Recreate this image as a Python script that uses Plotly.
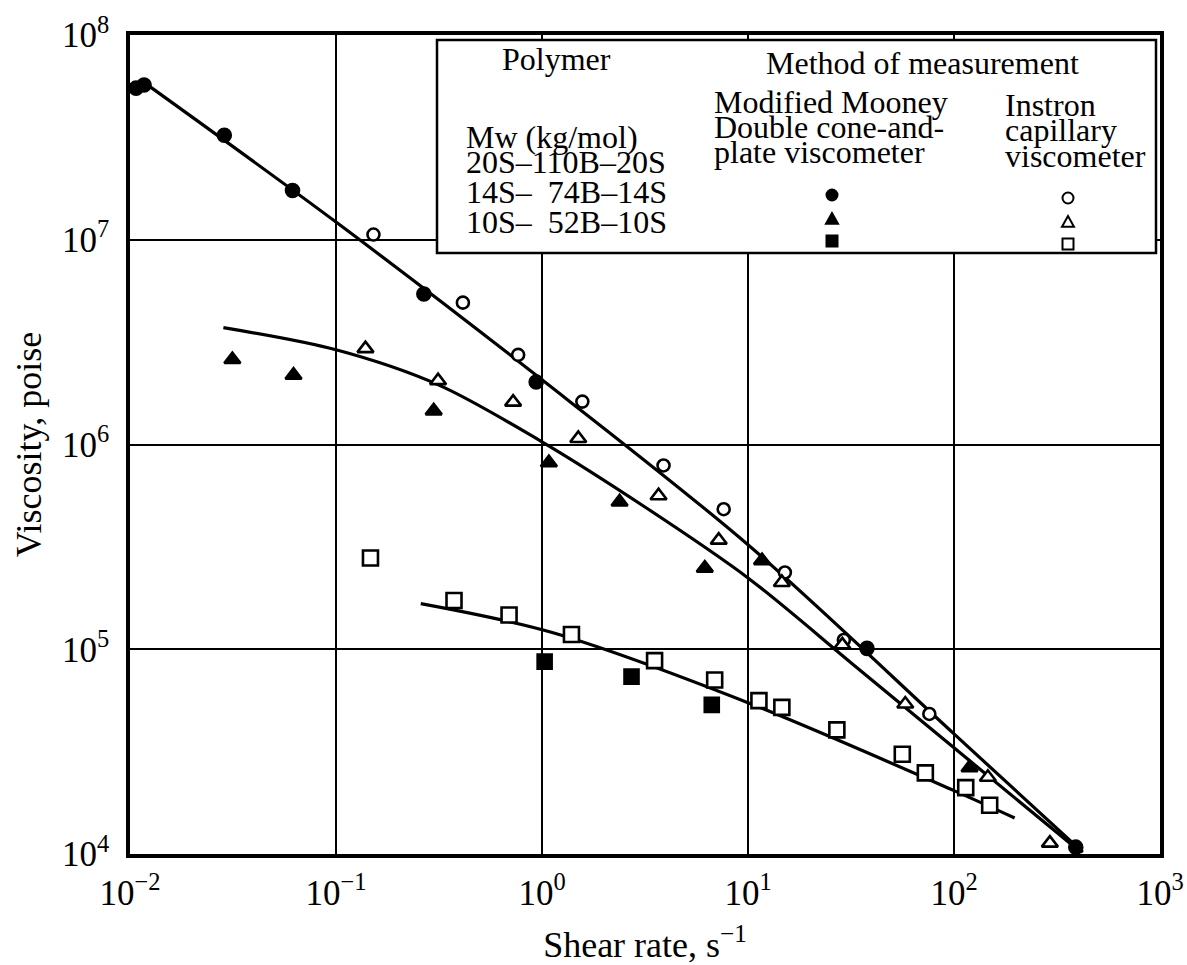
import plotly.graph_objects as go

# ---- measured viscosity data (shear rate in s^-1, viscosity in poise) ----
# 20S-110B-20S
mooney_20_rate = [0.0107, 0.0117, 0.0287, 0.0615, 0.267, 0.937, 37.8, 390]
mooney_20_visc = [5.5e7, 5.7e7, 3.24e7, 1.74e7, 5.43e6, 2.02e6, 1.01e5, 1.08e4]
instron_20_rate = [0.152, 0.413, 0.766, 1.57, 3.89, 7.62, 15.1, 29.2, 75.9]
instron_20_visc = [1.06e7, 4.93e6, 2.74e6, 1.62e6, 7.9e5, 4.83e5, 2.37e5, 1.11e5, 4.83e4]

# 14S-74B-14S
mooney_14_rate = [0.0314, 0.0622, 0.298, 1.08, 2.38, 6.17, 11.7, 119]
mooney_14_visc = [2.6e6, 2.18e6, 1.46e6, 8.15e5, 5.24e5, 2.49e5, 2.71e5, 2.64e4]
instron_14_rate = [0.139, 0.313, 0.724, 1.50, 3.68, 7.21, 14.6, 28.7, 58.0, 146, 292]
instron_14_visc = [2.94e6, 2.05e6, 1.61e6, 1.07e6, 5.62e5, 3.41e5, 2.12e5, 1.05e5, 5.4e4, 2.37e4, 1.13e4]

# 10S-52B-10S
mooney_10_rate = [1.03, 2.72, 6.67]
mooney_10_visc = [8.7e4, 7.35e4, 5.35e4]
instron_10_rate = [0.147, 0.374, 0.692, 1.39, 3.52, 6.89, 11.3, 14.6, 27.0, 56.1, 72.6, 114, 149]
instron_10_visc = [2.79e5, 1.73e5, 1.47e5, 1.18e5, 8.8e4, 7.08e4, 5.61e4, 5.2e4, 4.04e4, 3.07e4, 2.49e4, 2.11e4, 1.73e4]

# ---- smooth curves drawn through each polymer's data ----
curve_20_rate = [0.0116, 0.1, 1, 10, 100, 422]
curve_20_visc = [5.9e7, 1.22e7, 2.07e6, 3.24e5, 3.86e4, 1.02e4]
curve_14_rate = [0.0284, 0.1, 0.316, 1, 3.16, 10, 31.6, 100, 413]
curve_14_visc = [3.72e6, 2.9e6, 1.95e6, 1.03e6, 4.95e5, 2.23e5, 8.6e4, 3.3e4, 1.02e4]
curve_10_rate = [0.258, 1.11, 10, 100, 197]
curve_10_visc = [1.67e5, 1.21e5, 5.48e4, 2.04e4, 1.5e4]

# ---- axis ticks ----
x_tickvals = [0.01, 0.1, 1, 10, 100, 1000]
x_ticktext = ["10<sup>\u22122</sup>", "10<sup>\u22121</sup>", "10<sup>0</sup>",
              "10<sup>1</sup>", "10<sup>2</sup>", "10<sup>3</sup>"]
y_tickvals = [1e4, 1e5, 1e6, 1e7, 1e8]
y_ticktext = ["10<sup>4</sup>", "10<sup>5</sup>", "10<sup>6</sup>",
              "10<sup>7</sup>", "10<sup>8</sup>"]

FONT = "Liberation Serif"
W, H = 1187, 965
L, R, T, B = 130, 1160, 35, 854


def fx(p):
    return (p - L) / (R - L)


def fy(p):
    return (B - p) / (B - T)


fig = go.Figure()

for rate, visc in [(curve_20_rate, curve_20_visc),
                   (curve_14_rate, curve_14_visc),
                   (curve_10_rate, curve_10_visc)]:
    fig.add_trace(go.Scatter(x=rate, y=visc, mode="lines",
                             line=dict(color="black", width=3.2, shape="spline", smoothing=0.9),
                             showlegend=False, hoverinfo="skip"))

open_line = dict(color="black", width=2.6)
series = [
    (instron_20_rate, instron_20_visc, "circle", "white", 12),
    (instron_14_rate, instron_14_visc, "triangle-up", "white", 14),
    (instron_10_rate, instron_10_visc, "square", "white", 15),
    (mooney_20_rate, mooney_20_visc, "circle", "black", 13),
    (mooney_14_rate, mooney_14_visc, "triangle-up", "black", 14),
    (mooney_10_rate, mooney_10_visc, "square", "black", 14),
]
for rate, visc, sym, fill, size in series:
    fig.add_trace(go.Scatter(x=rate, y=visc, mode="markers",
                             marker=dict(symbol=sym, color=fill, size=size, line=open_line),
                             showlegend=False))

# legend box, drawn over the grid
fig.add_shape(type="rect", xref="paper", yref="paper",
              x0=fx(437), x1=fx(1156), y0=fy(253), y1=fy(40),
              fillcolor="white", line=dict(color="black", width=2.5), layer="above")


# key symbols inside the legend box
def key_circle(cx, cy, filled, r=5.5):
    fig.add_shape(type="circle", xref="paper", yref="paper",
                  x0=fx(cx - r), x1=fx(cx + r), y0=fy(cy + r), y1=fy(cy - r),
                  fillcolor="black" if filled else "white",
                  line=dict(color="black", width=2), layer="above")


def key_triangle(cx, cy, filled, h=6):
    path = "M {:.5f},{:.5f} L {:.5f},{:.5f} L {:.5f},{:.5f} Z".format(
        fx(cx), fy(cy - h), fx(cx - h), fy(cy + h * 0.8), fx(cx + h), fy(cy + h * 0.8))
    fig.add_shape(type="path", xref="paper", yref="paper", path=path,
                  fillcolor="black" if filled else "white",
                  line=dict(color="black", width=2), layer="above")


def key_square(cx, cy, filled, h=5.5):
    fig.add_shape(type="rect", xref="paper", yref="paper",
                  x0=fx(cx - h), x1=fx(cx + h), y0=fy(cy + h), y1=fy(cy - h),
                  fillcolor="black" if filled else "white",
                  line=dict(color="black", width=2), layer="above")


key_circle(832, 195, True)
key_triangle(832, 219, True)
key_square(832, 241, True)
key_circle(1068, 198, False)
key_triangle(1068, 222, False)
key_square(1068, 244, False)

LF = 32
nb = "\u00a0"
legend_text = [
    ("Polymer", 556, 70, "center"),
    ("Method of measurement", 922, 74, "center"),
    ("Modified Mooney", 712, 113, "left"),
    ("Double cone-and-", 712, 138, "left"),
    ("plate viscometer", 712, 163, "left"),
    ("Instron", 1003, 116, "left"),
    ("capillary", 1003, 141, "left"),
    ("viscometer", 1003, 167, "left"),
    ("Mw (kg/mol)", 464, 148, "left"),
    ("20S\u2013110B\u201320S", 464, 173, "left"),
    ("14S\u2013" + nb * 2 + "74B\u201314S", 464, 203, "left"),
    ("10S\u2013" + nb * 2 + "52B\u201310S", 464, 233, "left"),
]
for txt, x, base, anchor in legend_text:
    fig.add_annotation(text=txt, xref="paper", yref="paper",
                       x=fx(x), y=fy(base - 0.34 * LF), xanchor=anchor, yanchor="middle",
                       showarrow=False, font=dict(family=FONT, size=LF, color="black"))

axis_common = dict(
    type="log", showgrid=True, gridcolor="black", gridwidth=2,
    showline=True, linecolor="black", linewidth=3.5, mirror=True,
    zeroline=False, ticks="outside", tickcolor="rgba(0,0,0,0)",
    tickfont=dict(family=FONT, size=35, color="black"), automargin=False,
)

fig.update_layout(
    width=W, height=H,
    margin=dict(l=L, r=W - R, t=T, b=H - B),
    paper_bgcolor="white", plot_bgcolor="white",
    xaxis=dict(axis_common, range=[-2, 3], tickvals=x_tickvals, ticktext=x_ticktext,
               ticklen=5,
               title=dict(text="Shear rate, s<sup>\u22121</sup>",
                          font=dict(family=FONT, size=36, color="black"), standoff=28)),
    yaxis=dict(axis_common, range=[4, 8], tickvals=y_tickvals, ticktext=y_ticktext,
               ticklen=10,
               title=dict(text="Viscosity, poise",
                          font=dict(family=FONT, size=36, color="black"), standoff=10)),
    showlegend=False,
)

fig.write_html("out.html")
